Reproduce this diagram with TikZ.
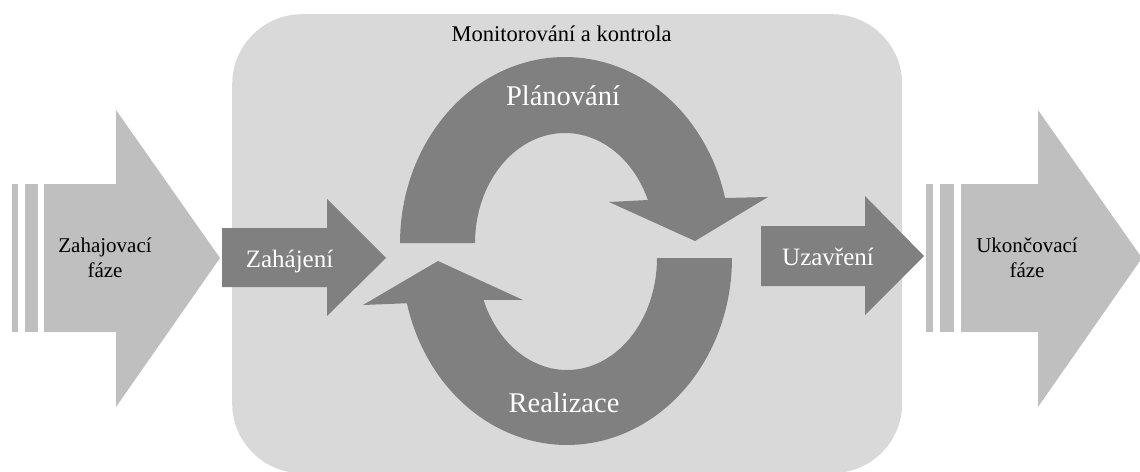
\documentclass[tikz,border=0pt]{standalone}
\usepackage{fontspec}
\setmainfont{Liberation Serif}
\definecolor{panelgray}{HTML}{D9D9D9}
\definecolor{cyclegray}{HTML}{808080}
\definecolor{phasegray}{HTML}{BFBFBF}
\begin{document}
\begin{tikzpicture}[x=1pt,y=-1pt,
  phase/.style={fill=phasegray},
  cycle/.style={fill=cyclegray},
  phasetext/.style={font=\fontsize{21}{25}\selectfont, align=center, text=black, inner sep=0pt},
  steptext/.style={font=\fontsize{25}{30}\selectfont, text=white, anchor=base, inner sep=0pt},
  looptext/.style={font=\fontsize{28.5}{34}\selectfont, text=white, anchor=base, inner sep=0pt}]
\useasboundingbox (0,0) rectangle (1140,471);

% monitoring panel
\node[fill=panelgray, rounded corners=70pt, minimum width=670pt, minimum height=459pt,
      inner sep=0pt, anchor=north west] (panel) at (232,14) {};
\node[font=\fontsize{22.5}{27}\selectfont, anchor=base, inner sep=0pt] (title) at (561.5,41) {Monitorování a kontrola};

% initiating phase
\fill[phase] (12,184) rectangle (18,332);
\fill[phase] (25,184) rectangle (38,332);
\fill[phase] (44,184) -- (116,184) -- (116,110) -- (220,258) -- (116,407) -- (116,332) -- (44,332) -- cycle;
\node[phasetext] (init) at (105,258) {Zahajovací\\fáze};

% closing phase
\fill[phase] (926,184) rectangle (933,332);
\fill[phase] (940,184) rectangle (954,332);
\fill[phase] (961,184) -- (1038,184) -- (1038,110) -- (1142,258) -- (1038,407) -- (1038,332) -- (961,332) -- cycle;
\node[phasetext] (close) at (1027,258) {Ukončovací\\fáze};

% start and end arrows
\fill[cycle] (222,228) -- (327,228) -- (327,199) -- (386,258) -- (327,316) -- (327,287) -- (222,287) -- cycle;
\node[steptext] (start) at (289.5,267) {Zahájení};
\fill[cycle] (761,226) -- (865,226) -- (865,196) -- (924,256) -- (865,315) -- (865,286) -- (761,286) -- cycle;
\node[steptext] (finish) at (828,265) {Uzavření};

% planning half of the cycle
\fill[cycle] plot[domain=180:346, samples=80] ({565+165*cos(\x)},{243+186*sin(\x)})
  -- (768,197) -- (695,241) -- (609,202)
  -- plot[domain=337:180, samples=80] ({565+90*cos(\x)},{243+110*sin(\x)}) -- cycle;
\node[looptext] (plan) at (563,105) {Plánování};

% execution half of the cycle
\fill[cycle] plot[domain=0:166, samples=80] ({567+165*cos(\x)},{258+187*sin(\x)})
  -- (363,305) -- (438,261) -- (523,300)
  -- plot[domain=158:0, samples=80] ({567+90*cos(\x)},{258+112*sin(\x)}) -- cycle;
\node[looptext] (exec) at (564,412) {Realizace};
\end{tikzpicture}
\end{document}
